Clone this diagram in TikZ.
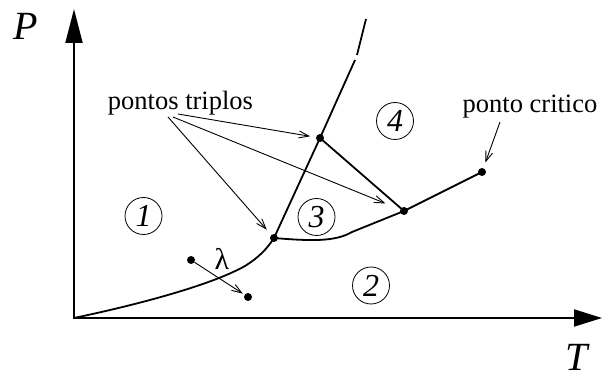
\documentclass[tikz,border=0pt]{standalone}
\usepackage{fontspec}
\setmainfont{Liberation Serif}
\usetikzlibrary{arrows.meta}
\tikzset{
  axis/.style={line width=1.9pt},
  phase/.style={line width=1.8pt},
  pointer/.style={line width=0.9pt, -{Straight Barb[length=10pt,width=7pt]}},
  dot/.style={circle, fill, inner sep=0pt, minimum size=8pt},
  region/.style={circle, draw, line width=0.8pt, inner sep=0pt, minimum size=37pt,
                 font=\fontsize{32}{34}\selectfont\itshape},
  txt/.style={font=\fontsize{26.5}{30}\selectfont},
  axlab/.style={font=\fontsize{40}{44}\selectfont\itshape, anchor=base,
                inner sep=0pt, text depth=0pt}
}

\begin{document}
\begin{tikzpicture}[x=1pt,y=-1pt]
  \useasboundingbox (0,0) rectangle (602,379);
  % axes
  \coordinate (O) at (74,318);
  \coordinate (Ptip) at (74,9);
  \coordinate (Ttip) at (602,318);
  \draw[axis, {Triangle[length=34pt,width=17pt]}-{Triangle[length=28pt,width=17pt]}]
    (Ptip) -- (O) -- (Ttip);
  \node[axlab] (P) at (26,40) {P};
  \node[axlab] (T) at (577,370) {T};

  % triple and critical points
  \node[dot] (A) at (274,238) {};
  \node[dot] (B) at (320,138) {};
  \node[dot] (C) at (404,211) {};
  \node[dot] (K) at (482,172) {};

  % phase boundaries
  \coordinate (top1) at (355,60);
  \coordinate (top2) at (357,55);
  \coordinate (top3) at (366,19);
  \draw[phase] (O) .. controls (150,302) and (215,283) .. (245,266)
                   .. controls (258,258) and (267,249) .. (A.center);
  \draw[phase] (A.center) -- (B.center) -- (top1);
  \draw[phase] (top2) -- (top3);
  \draw[phase] (A.center) .. controls (310,241) and (335,242) .. (352,232)
               -- (C.center) -- (K.center);
  \draw[phase] (B.center) -- (C.center);

  % lambda transition
  \node[dot] (L1) at (191,260) {};
  \node[dot] (L2) at (248,297) {};
  \draw[pointer, shorten >=2pt] (L1) -- (L2);
  \node[txt, font=\fontsize{30}{32}\selectfont] (lam) at (222,259) {λ};

  % regions
  \foreach \n/\x/\y in {1/143.5/216, 2/371/285.5, 3/316.5/217, 4/395/121}
    \node[region] (r\n) at (\x,\y) {\n};

  % labels with their pointers
  \node[txt, anchor=base] (triplos) at (180.5,110) {pontos triplos};
  \node[txt, anchor=base] (critico) at (530,113) {ponto critico};
  \coordinate (s1) at (168,117);
  \coordinate (s2) at (173,117);
  \coordinate (s3) at (178,114);
  \foreach \s/\p/\d in {s1/A/11pt, s2/C/20pt, s3/B/10pt}
    \draw[pointer, shorten >=\d] (\s) -- (\p.center);
  \coordinate (k0) at (500,122);
  \draw[pointer, shorten >=10pt] (k0) -- (K.center);
\end{tikzpicture}
\end{document}
